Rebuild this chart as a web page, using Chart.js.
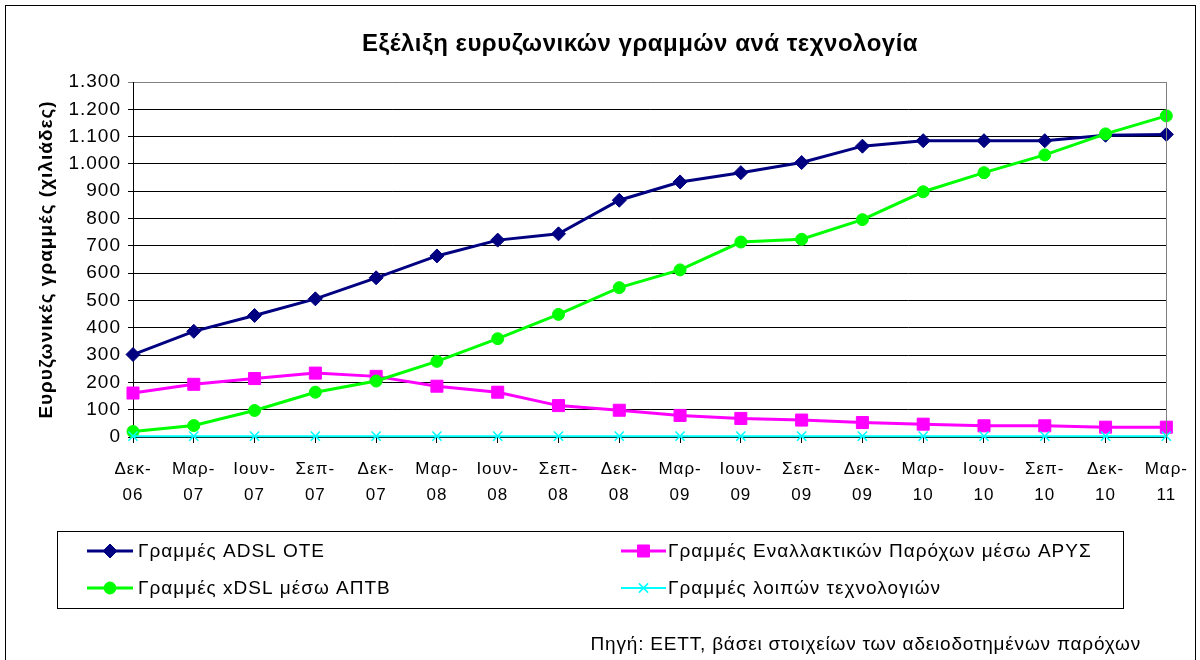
<!DOCTYPE html>
<html lang="el">
<head>
<meta charset="utf-8">
<title>Εξέλιξη ευρυζωνικών γραμμών ανά τεχνολογία</title>
<script src="https://cdn.jsdelivr.net/npm/chart.js@4/dist/chart.umd.min.js"></script>
<style>
  html, body { margin: 0; padding: 0; background: #fff; }
  #wrap { width: 1200px; height: 660px; position: relative; }
</style>
</head>
<body>
<div id="wrap"><canvas id="chart" width="1200" height="660"></canvas></div>
<script>
// Quarterly values, thousands of lines
const quarters = [
  ['Δεκ-', '06'], ['Μαρ-', '07'], ['Ιουν-', '07'], ['Σεπ-', '07'],
  ['Δεκ-', '07'], ['Μαρ-', '08'], ['Ιουν-', '08'], ['Σεπ-', '08'],
  ['Δεκ-', '08'], ['Μαρ-', '09'], ['Ιουν-', '09'], ['Σεπ-', '09'],
  ['Δεκ-', '09'], ['Μαρ-', '10'], ['Ιουν-', '10'], ['Σεπ-', '10'],
  ['Δεκ-', '10'], ['Μαρ-', '11']
];
const adslOte = [302, 387, 445, 506, 583, 663, 721, 744, 867, 934, 968, 1005, 1065, 1085, 1085, 1085, 1105, 1108];
const altProviders = [161, 193, 214, 234, 222, 186, 164, 115, 98, 79, 68, 62, 53, 47, 41, 41, 36, 36];
const xdslApt = [20, 42, 97, 164, 205, 277, 360, 449, 547, 612, 714, 724, 796, 898, 968, 1033, 1110, 1176];
const otherTech = [3, 3, 3, 3, 3, 3, 3, 3, 3, 3, 3, 3, 3, 3, 3, 3, 3, 3];

const yTicks = { min: 0, max: 1300, step: 100 };

const TITLE = 'Εξέλιξη ευρυζωνικών γραμμών ανά τεχνολογία';
const Y_TITLE = 'Ευρυζωνικές γραμμές (χιλιάδες)';
const SOURCE = 'Πηγή: ΕΕΤΤ, βάσει στοιχείων των αδειοδοτημένων παρόχων';
const FONT = '"Liberation Sans", Arial, sans-serif';

// series in legend order (row by row)
const series = [
  { label: 'Γραμμές ADSL OTE', data: adslOte, color: '#000080', style: 'rectRot', radius: 7, width: 3, order: 3 },
  { label: 'Γραμμές Εναλλακτικών Παρόχων μέσω ΑΡΥΣ', data: altProviders, color: '#FF00FF', style: 'rect', radius: 8.5, width: 3, order: 2 },
  { label: 'Γραμμές xDSL μέσω ΑΠΤΒ', data: xdslApt, color: '#00FF00', style: 'circle', radius: 6, width: 3, order: 1 },
  { label: 'Γραμμές λοιπών τεχνολογιών', data: otherTech, color: '#00FFFF', style: 'crossRot', radius: 6.5, width: 2, order: 0 }
];

// Excel style thousands separator: 1.300
function formatThousands(v) {
  if (v < 1000) return String(v);
  const rest = String(v % 1000).padStart(3, '0');
  return Math.floor(v / 1000) + '.' + rest;
}

function drawMarker(ctx, s, x, y) {
  const opts = { pointStyle: s.style, radius: s.radius, borderWidth: s.style === 'crossRot' ? 1.5 : 1, rotation: 0 };
  ctx.save();
  ctx.fillStyle = s.color;
  ctx.strokeStyle = s.color;
  ctx.lineWidth = opts.borderWidth;
  Chart.helpers.drawPoint(ctx, opts, x, y);
  ctx.restore();
}

function text(ctx, str, x, y, font, spacing, align) {
  ctx.font = font;
  ctx.letterSpacing = spacing;
  ctx.textAlign = align;
  ctx.fillText(str, x, y);
}

/**
 * Frame, title, legend box and source note drawn around the plot
 */
const decorations = {
  id: 'decorations',
  beforeDraw(chart) {
    const { ctx } = chart;
    ctx.fillStyle = '#fff';
    ctx.fillRect(0, 0, chart.width, chart.height);
    // Excel renders its labels a little wider than the font metrics
    ctx.letterSpacing = '1px';
  },
  afterDraw(chart) {
    const { ctx, chartArea } = chart;
    ctx.save();

    // outer frame
    ctx.strokeStyle = '#000';
    ctx.lineWidth = 1;
    ctx.strokeRect(5.5, 5.5, 1190, 700);

    // right border of the plot
    ctx.strokeStyle = '#808080';
    ctx.beginPath();
    ctx.moveTo(Math.round(chartArea.right) + 0.5, chartArea.top);
    ctx.lineTo(Math.round(chartArea.right) + 0.5, chartArea.bottom);
    ctx.stroke();

    // title
    ctx.fillStyle = '#000';
    ctx.textBaseline = 'middle';
    text(ctx, TITLE, 640, 44, 'bold 24px ' + FONT, '0.5px', 'center');

    // legend
    ctx.strokeStyle = '#000';
    ctx.lineWidth = 1;
    ctx.strokeRect(57.5, 531.5, 1066, 77);
    const cols = [{ x0: 87, x1: 133, tx: 138 }, { x0: 621, x1: 666, tx: 668 }];
    const rows = [551, 588];
    series.forEach((s, i) => {
      const c = cols[i % 2];
      const y = rows[Math.floor(i / 2)];
      ctx.strokeStyle = s.color;
      ctx.lineWidth = s.width;
      ctx.beginPath();
      ctx.moveTo(c.x0, y);
      ctx.lineTo(c.x1, y);
      ctx.stroke();
      drawMarker(ctx, s, (c.x0 + c.x1) / 2, y);
      ctx.fillStyle = '#000';
      text(ctx, s.label, c.tx, y + 1, '19px ' + FONT, '1px', 'left');
    });

    // source
    ctx.textBaseline = 'alphabetic';
    ctx.fillStyle = '#000';
    text(ctx, SOURCE, 1141, 650, '19px ' + FONT, '0.8px', 'right');

    ctx.restore();
  }
};

const datasets = series.map(s => ({
  label: s.label,
  data: s.data,
  borderColor: s.color,
  backgroundColor: s.color,
  borderWidth: s.width,
  pointStyle: s.style,
  pointRadius: s.radius,
  pointHoverRadius: s.radius,
  pointBorderWidth: s.style === 'crossRot' ? 1.5 : 1,
  tension: 0,
  fill: false,
  clip: false,
  order: s.order
}));

new Chart(document.getElementById('chart'), {
  type: 'line',
  data: { labels: quarters, datasets },
  plugins: [decorations],
  options: {
    responsive: false,
    animation: false,
    events: [],
    layout: { padding: { left: 6, right: 29, top: 82, bottom: 0 } },
    plugins: {
      legend: { display: false },
      title: { display: false },
      tooltip: { enabled: false }
    },
    scales: {
      x: {
        type: 'category',
        offset: false,
        afterFit: (scale) => { scale.height = 223; },
        grid: {
          drawOnChartArea: false,
          drawTicks: true,
          tickLength: 6,
          color: '#000',
          lineWidth: 1
        },
        border: { color: '#000', width: 1 },
        ticks: {
          autoSkip: false,
          maxRotation: 0,
          minRotation: 0,
          padding: 14,
          color: '#000',
          font: { family: FONT, size: 17, lineHeight: 1.5 }
        }
      },
      y: {
        min: yTicks.min,
        max: yTicks.max,
        afterFit: (scale) => { scale.width = 127; },
        grid: {
          color: (ctx) => (ctx.tick && ctx.tick.value === yTicks.max ? '#808080' : '#000'),
          lineWidth: 1,
          tickLength: 5
        },
        border: { color: '#000', width: 1 },
        ticks: {
          stepSize: yTicks.step,
          padding: 7,
          color: '#000',
          font: { family: FONT, size: 19 },
          callback: (v) => formatThousands(v)
        },
        title: {
          display: true,
          text: Y_TITLE,
          color: '#000',
          padding: { top: 29, bottom: 0 },
          font: { family: FONT, size: 19, weight: 'bold' }
        }
      }
    }
  }
});
</script>
</body>
</html>
